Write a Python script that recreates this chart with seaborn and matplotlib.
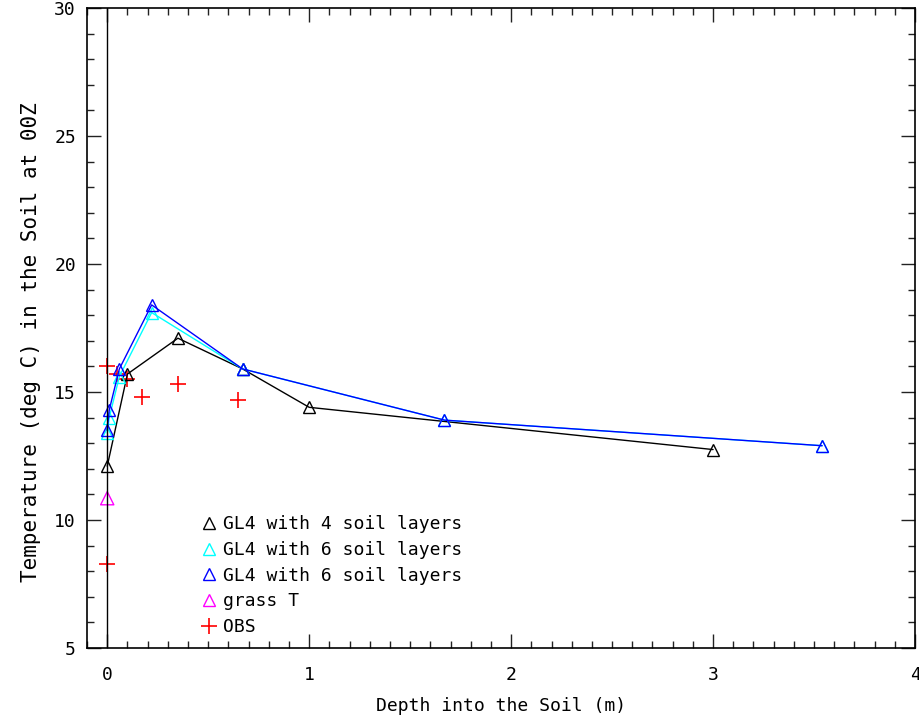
import matplotlib
matplotlib.use("Agg")
import matplotlib.pyplot as plt
import seaborn as sns
import pandas as pd
from matplotlib.lines import Line2D
from matplotlib.ticker import MultipleLocator

# Data
depth_4l = [0.0, 0.10, 0.35, 0.67, 1.00, 3.00]
temp_4l = [12.1, 15.7, 17.1, 15.9, 14.4, 12.75]

depth_6l = [0.0, 0.01, 0.06, 0.22, 0.67, 1.67, 3.54]
temp_6l_cyan = [13.4, 14.0, 15.6, 18.1, 15.9, 13.9, 12.9]
temp_6l_blue = [13.5, 14.3, 15.9, 18.4, 15.9, 13.9, 12.9]

grass_depth = [0.0]
grass_temp = [10.85]

obs_depth = [0.0, 0.05, 0.10, 0.17, 0.35, 0.65, 0.0]
obs_temp = [16.0, 15.7, 15.5, 14.8, 15.3, 14.7, 8.3]

labels = ["GL4 with 4 soil layers", "GL4 with 6 soil layers",
          "GL4 with 6 soil layers", "grass T", "OBS"]
colors = ["black", "cyan", "blue", "magenta", "red"]

sns.set_style("white")
plt.rcParams['font.family'] = ['DejaVu Sans Mono', 'DejaVu Sans']
plt.rcParams['text.color'] = 'black'
plt.rcParams['axes.labelcolor'] = 'black'
plt.rcParams['xtick.color'] = 'black'
plt.rcParams['ytick.color'] = 'black'

fig = plt.figure(figsize=(9.2, 7.18), dpi=100)
ax = fig.add_axes([0.0946, 0.0975, 0.9, 0.8915])

tri = dict(marker="^", markersize=9, markerfacecolor="none", markeredgewidth=1.0)

series = [(depth_4l, temp_4l, colors[0]),
          (depth_6l, temp_6l_cyan, colors[1]),
          (depth_6l, temp_6l_blue, colors[2])]
for d, t, c in series:
    df = pd.DataFrame({"d": d, "t": t})
    sns.lineplot(data=df, x="d", y="t", sort=False, estimator=None, ax=ax,
                 color=c, lw=1.0, markeredgecolor=c, **tri)

sns.scatterplot(x=grass_depth, y=grass_temp, ax=ax, marker="^", s=90,
                facecolor="none", edgecolor="magenta", linewidth=1.0)
sns.scatterplot(x=obs_depth, y=obs_temp, ax=ax, marker="+", s=120,
                color="red", linewidth=1.2)

ax.axvline(0, color="black", lw=1.0)

ax.set_xlim(-0.1, 4.0)
ax.set_ylim(5, 30)
ax.xaxis.set_major_locator(MultipleLocator(1))
ax.xaxis.set_minor_locator(MultipleLocator(0.1))
ax.yaxis.set_major_locator(MultipleLocator(5))
ax.yaxis.set_minor_locator(MultipleLocator(1))
ax.tick_params(which="both", direction="in", top=True, right=True,
               bottom=True, left=True, width=1.0, color="#222222")
ax.tick_params(which="major", length=10, labelsize=13)
ax.tick_params(which="minor", length=5)
ax.tick_params(axis="x", which="major", pad=13)
ax.tick_params(axis="y", which="major", pad=8)
for s in ax.spines.values():
    s.set_color("black")
    s.set_linewidth(1.2)

ax.set_xlabel("Depth into the Soil (m)", fontsize=13, labelpad=9)
ax.set_ylabel("Temperature (deg C) in the Soil at 00Z", fontsize=15)
ax.yaxis.set_label_coords(-0.056, 0.478)

handles = []
for lab, c in zip(labels, colors):
    if lab == "OBS":
        h = Line2D([], [], ls="none", marker="+", markersize=11, color=c,
                   markeredgewidth=1.2)
    else:
        h = Line2D([], [], ls="none", marker="^", markersize=9,
                   markerfacecolor="none", markeredgecolor=c, markeredgewidth=1.0)
    handles.append(h)
ax.legend(handles, labels, loc="upper left", bbox_to_anchor=(0.139, 0.207),
          frameon=False, fontsize=13, handlelength=0.8, handletextpad=0.35,
          labelspacing=0.42, borderaxespad=0, borderpad=0)

fig.savefig("out.png", dpi=100)
